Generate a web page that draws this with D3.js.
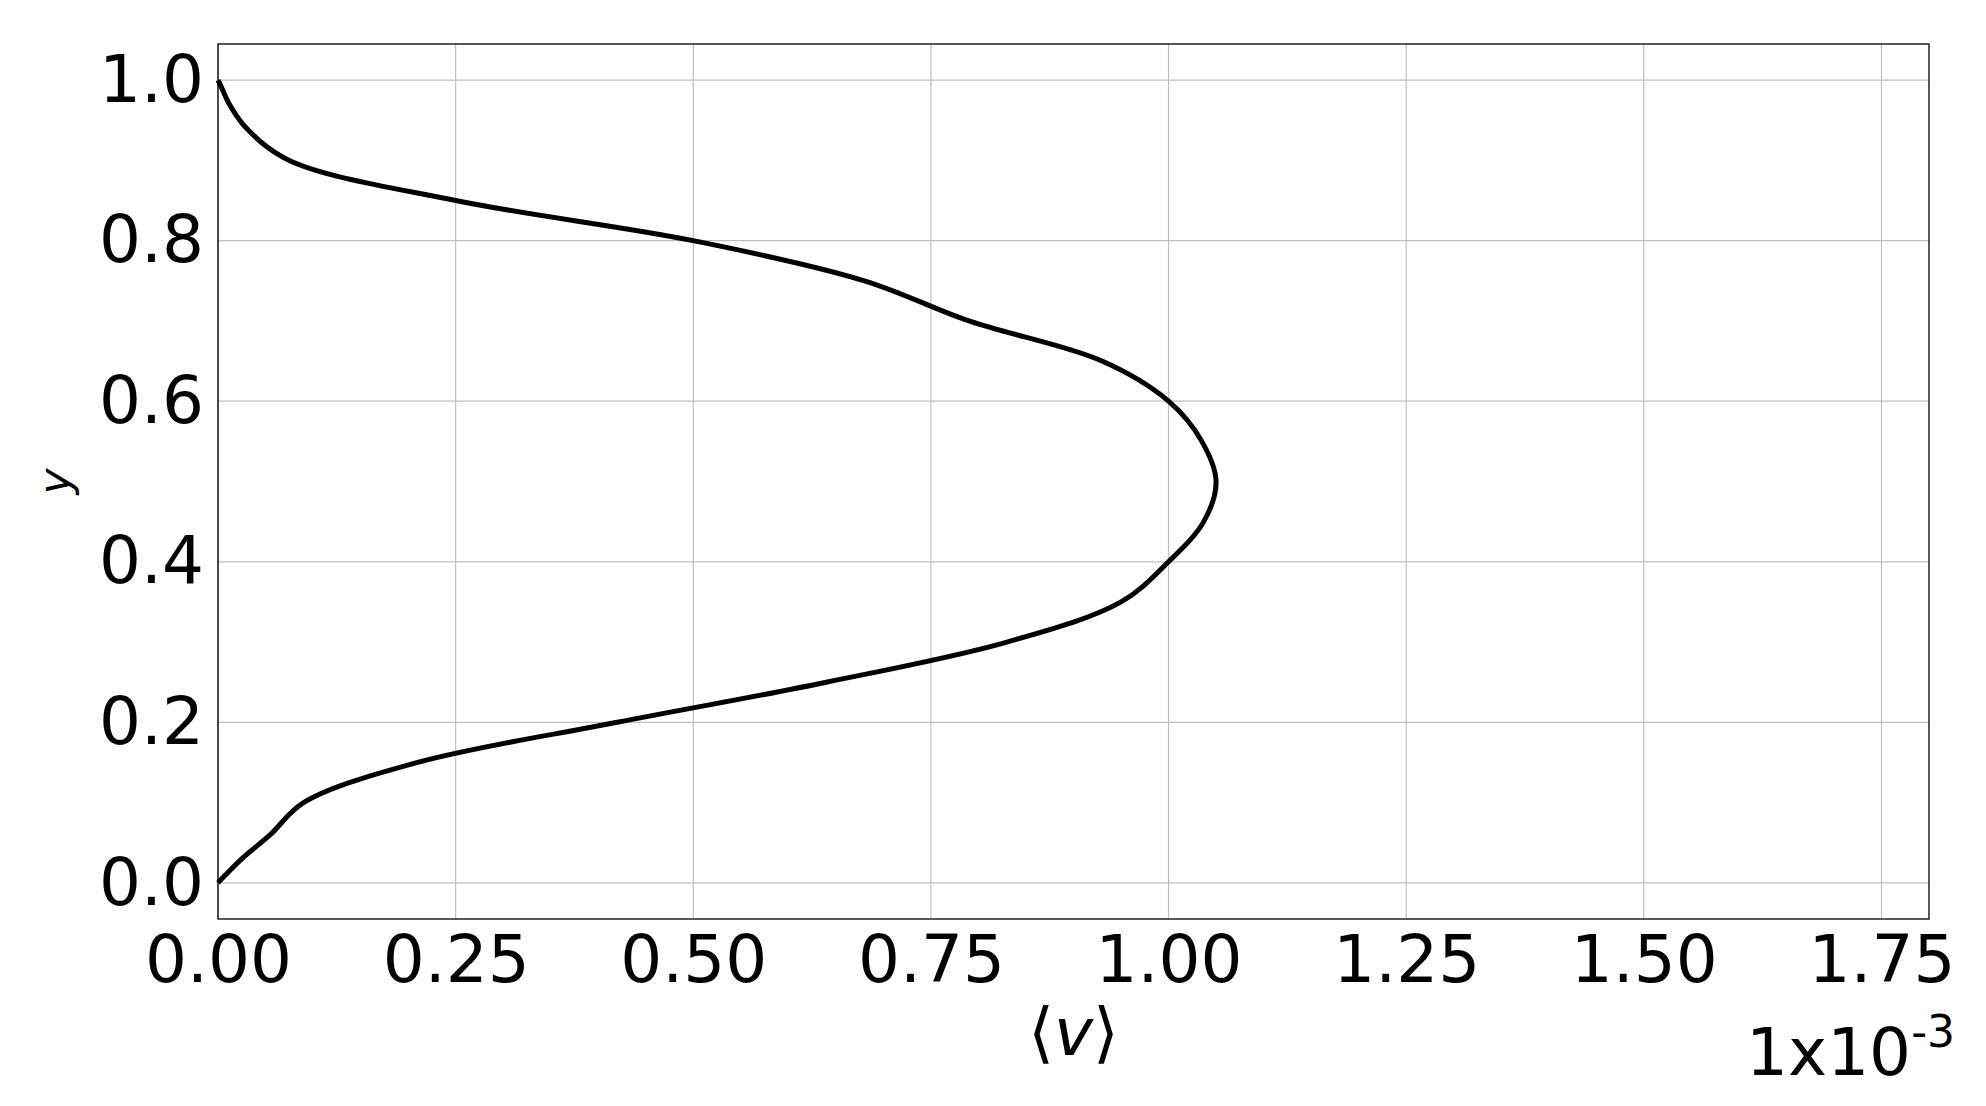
<!DOCTYPE html><html><head><meta charset="utf-8"><script src="https://cdn.jsdelivr.net/npm/d3@7"></script>
<style>body{margin:0;background:#fff}text{font-family:"DejaVu Sans";}</style></head><body><svg id="c" width="1986" height="1106"></svg><script>
const yVals=[0,0.01,0.03,0.06,0.1,0.15,0.2,0.25,0.3,0.35,0.4,0.45,0.5,0.55,0.6,0.65,0.7,0.75,0.8,0.85,0.9,0.94,0.97,0.99,1.0];
const vVals=[0,0.008,0.025,0.055,0.09,0.21,0.42,0.64,0.83,0.95,1.0,1.037,1.05,1.035,1.0,0.93,0.79,0.68,0.5,0.25,0.075,0.03,0.012,0.004,0];
const xTicks=[0,0.25,0.5,0.75,1.0,1.25,1.5,1.75];
const yTicks=[0,0.2,0.4,0.6,0.8,1.0];
const svg=d3.select("#c");
const L=218,R=1929,T=44,B=919;
const x=d3.scaleLinear().domain([0,1.8]).range([L,R]);
const y=d3.scaleLinear().domain([-0.045,1.045]).range([B,T]);
const g=svg.append("g");
g.selectAll(".gx").data(xTicks).join("line").attr("x1",d=>x(d)).attr("x2",d=>x(d)).attr("y1",T).attr("y2",B).attr("stroke","#bfbfbf").attr("stroke-width",1.2);
g.selectAll(".gy").data(yTicks).join("line").attr("y1",d=>y(d)).attr("y2",d=>y(d)).attr("x1",L).attr("x2",R).attr("stroke","#bfbfbf").attr("stroke-width",1.2);
svg.append("rect").attr("x",L).attr("y",T).attr("width",R-L).attr("height",B-T).attr("fill","none").attr("stroke","#000").attr("stroke-width",1.3);
const xa=svg.append("g").attr("transform",`translate(0,${B})`).call(d3.axisBottom(x).tickValues(xTicks).tickFormat(d3.format(".2f")).tickSize(0).tickPadding(16));
xa.select(".domain").remove();xa.selectAll("text").attr("font-size",66).attr("fill","#000").attr("font-family","DejaVu Sans");
const ya=svg.append("g").attr("transform",`translate(${L},0)`).call(d3.axisLeft(y).tickValues(yTicks).tickFormat(d3.format(".1f")).tickSize(0).tickPadding(14));
ya.select(".domain").remove();ya.selectAll("text").attr("font-size",66).attr("fill","#000").attr("font-family","DejaVu Sans");
const pts=yVals.map((d,i)=>[vVals[i],d]);
svg.append("path").datum(pts).attr("d",d3.line().x(d=>x(d[0])).y(d=>y(d[1])).curve(d3.curveCatmullRom)).attr("fill","none").attr("stroke","#000").attr("stroke-width",5);
svg.append("text").attr("x",x(0.9)).attr("y",1055).attr("text-anchor","middle").attr("font-size",66).text("⟨").append("tspan").attr("font-style","italic").text("v").clone(true).attr("font-style",null).text("⟩");
svg.append("text").attr("transform",`translate(70,${y(0.5)}) rotate(-90)`).attr("text-anchor","middle").attr("font-size",44).attr("font-style","italic").text("y");
const m=svg.append("text").attr("x",1955).attr("y",1075).attr("text-anchor","end").attr("font-size",66).text("1x10");
m.append("tspan").attr("font-size",44).attr("dy",-28).text("-3");
</script></body></html>
